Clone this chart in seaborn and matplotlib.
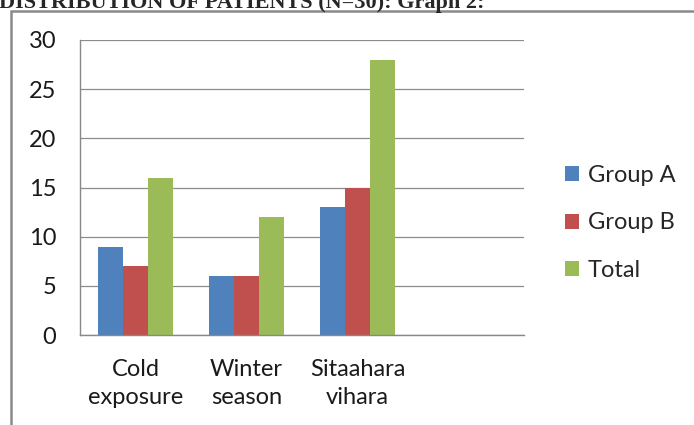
import matplotlib
matplotlib.use("Agg")
import matplotlib.pyplot as plt
import seaborn as sns
import pandas as pd
import numpy as np
from matplotlib.patches import Rectangle

categories = ["Cold\nexposure", "Winter\nseason", "Sitaahara\nvihara"]
group_a = [9, 6, 13]
group_b = [7, 6, 15]
total = [16, 12, 28]
series_names = ["Group A", "Group B", "Total"]
colors = ["#4F81BD", "#C0504D", "#9BBB59"]
y_ticks = [0, 5, 10, 15, 20, 25, 30]

rows = []
for name, vals in zip(series_names, [group_a, group_b, total]):
    for c, v in zip(categories, vals):
        rows.append({"cat": c, "series": name, "value": v})
df = pd.DataFrame(rows)

sns.set_style("white")
plt.rcParams["font.family"] = ["Lato", "DejaVu Sans"]

fig = plt.figure(figsize=(6.94, 4.25), dpi=100)
ax = fig.add_axes([80/694, 1-335/425, (524-80)/694, (335-40)/425])

order = categories + [" "]
sns.barplot(data=df, x="cat", y="value", hue="series", order=order,
            hue_order=series_names, palette=colors, width=0.667,
            saturation=1, ax=ax, errorbar=None, legend=True, linewidth=0)

ax.set_xlim(-0.5, 3.5)
ax.set_ylim(0, 30)
ax.set_yticks(y_ticks)
ax.set_yticklabels([str(t) for t in y_ticks], fontsize=17, color="#1a1a1a")
ax.set_xticks([0, 1, 2, 3])
ax.set_xticklabels(order, fontsize=17, color="#1a1a1a", linespacing=1.45)
ax.tick_params(axis="x", length=0, pad=17)
ax.set_xticks([-0.5, 0.5, 1.5, 2.5, 3.5], minor=True)
ax.tick_params(axis="x", which="minor", length=7, color="#888888", width=1)
ax.tick_params(axis="y", length=7, color="#888888", width=1, pad=10)
ax.set_xlabel("")
ax.set_ylabel("")
ax.grid(axis="y", color="#8C8C8C", linewidth=0.9)
ax.set_axisbelow(True)
for s in ["top", "right"]:
    ax.spines[s].set_visible(False)
for s in ["left", "bottom"]:
    ax.spines[s].set_color("#888888")
    ax.spines[s].set_linewidth(1)

handles, labels = ax.get_legend_handles_labels()
ax.legend(handles, labels, loc="center left", bbox_to_anchor=(1.045, 0.38),
          frameon=False, fontsize=17, handlelength=0.6, handleheight=0.6,
          handletextpad=0.35, labelspacing=1.12)

fig.patches.append(Rectangle((11/694, -0.1), 1.2, 1 - 11/425 + 0.1,
                             transform=fig.transFigure, fill=False,
                             edgecolor="#8A8A8A", linewidth=1.8))
fig.text(-0.002, 1 - 8/425, "DISTRIBUTION OF PATIENTS (N=30): Graph 2:",
         fontsize=16, fontweight="bold", family=["Liberation Serif"],
         va="baseline", ha="left")

fig.savefig("out.png", dpi=100)
